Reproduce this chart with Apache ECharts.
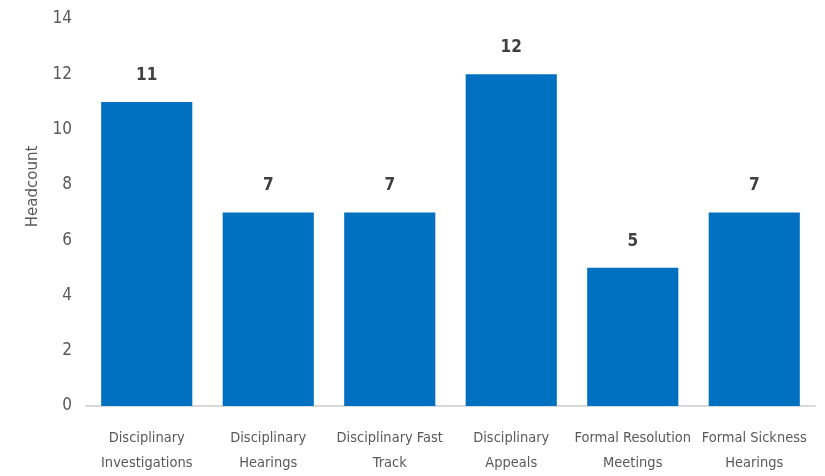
<!DOCTYPE html>
<html>
<head>
<meta charset="utf-8">
<script src="https://cdn.jsdelivr.net/npm/echarts@6/dist/echarts.min.js"></script>
<style>html,body{margin:0;padding:0;background:#fff;}#c{width:825px;height:476px;}</style>
</head>
<body>
<div id="c"></div>
<script>
const categories = ["Disciplinary\nInvestigations", "Disciplinary\nHearings", "Disciplinary Fast\nTrack", "Disciplinary\nAppeals", "Formal Resolution\nMeetings", "Formal Sickness\nHearings"];
const headcount = [11, 7, 7, 12, 5, 7];
const yTicks = { min: 0, max: 14, interval: 2 };
const yName = "Headcount";

const narrow = '"DejaVu Sans Condensed", sans-serif';
const chart = echarts.init(document.getElementById('c'));
chart.setOption({
  animation: false,
  grid: { left: 86, right: 10, top: 19, bottom: 70 },
  xAxis: {
    type: 'category',
    data: categories,
    axisLine: { lineStyle: { color: '#d9d9d9', width: 2 } },
    axisTick: { show: false },
    axisLabel: { color: '#595959', fontFamily: narrow, fontSize: 14.5, lineHeight: 25, margin: 20, interval: 0 }
  },
  yAxis: {
    type: 'value',
    min: yTicks.min, max: yTicks.max, interval: yTicks.interval,
    name: yName,
    nameLocation: 'middle',
    nameGap: 45,
    nameTextStyle: { color: '#595959', fontFamily: 'DejaVu Sans', fontSize: 15, padding: [0, 0, 0, 52] },
    splitLine: { show: false },
    axisLine: { show: false },
    axisTick: { show: false },
    axisLabel: { color: '#595959', fontFamily: narrow, fontSize: 17, margin: 14 }
  },
  series: [{
    type: 'bar',
    data: headcount,
    barCategoryGap: '25%',
    itemStyle: { color: '#0070C0' },
    label: { show: true, position: 'top', distance: 18, color: '#404040', fontFamily: '"DejaVu Sans Condensed", sans-serif', fontWeight: 'bold', fontSize: 17 }
  }]
});
</script>
</body>
</html>
